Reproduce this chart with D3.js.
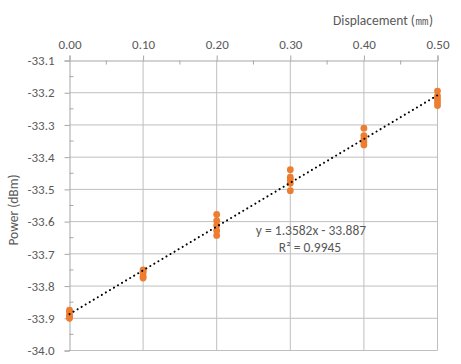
<!DOCTYPE html>
<html><head><meta charset="utf-8">
<script src="https://cdn.jsdelivr.net/npm/d3@7/dist/d3.min.js"></script>
<style>body{margin:0;background:#fff;} text{font-family:Carlito,"Open Sans",sans-serif;}</style>
</head><body><svg id="c" width="461" height="364"></svg>
<script>
const xValues = [0.0, 0.0, 0.0, 0.0, 0.0,
                 0.1, 0.1, 0.1, 0.1, 0.1,
                 0.2, 0.2, 0.2, 0.2, 0.2,
                 0.3, 0.3, 0.3, 0.3, 0.3,
                 0.4, 0.4, 0.4, 0.4, 0.4,
                 0.5, 0.5, 0.5, 0.5, 0.5];
const powerValues = [-33.875, -33.88, -33.89, -33.895, -33.90,
                     -33.75, -33.755, -33.76, -33.77, -33.775,
                     -33.578, -33.597, -33.612, -33.628, -33.643,
                     -33.439, -33.462, -33.47, -33.481, -33.504,
                     -33.31, -33.333, -33.343, -33.352, -33.362,
                     -33.195, -33.21, -33.22, -33.23, -33.24];
const xTicks = [0, 0.1, 0.2, 0.3, 0.4, 0.5];
const yTicks = [-33.1, -33.2, -33.3, -33.4, -33.5, -33.6, -33.7, -33.8, -33.9, -34.0];
const trendSlope = 1.3582, trendIntercept = -33.887;
const trendLabel = "y = 1.3582x - 33.887";
const r2Label = "R² = 0.9945";

const svg = d3.select("#c");
const L = 69.5, R = 437.5, T = 60.5, B = 350.5;
const x = d3.scaleLinear().domain([0, 0.5]).range([L, R]);
const y = d3.scaleLinear().domain([-34.0, -33.1]).range([B, T]);
const gridC = "#BFBFBF", axisC = "#A6A6A6", textC = "#595959";
const FF = 'Carlito,"Open Sans",sans-serif';

// gridlines
svg.append("g").selectAll("line").data(yTicks.slice(1)).join("line")
  .attr("x1", L).attr("x2", R).attr("y1", d => y(d)).attr("y2", d => y(d))
  .attr("stroke", gridC);
svg.append("g").selectAll("line").data(xTicks.slice(1)).join("line")
  .attr("x1", d => x(d)).attr("x2", d => x(d)).attr("y1", T).attr("y2", B)
  .attr("stroke", gridC);

// top x axis
const xAx = svg.append("g").attr("transform", `translate(0,${T})`)
  .call(d3.axisTop(x).tickValues(xTicks).tickFormat(d3.format(".2f")).tickSize(5).tickPadding(7));
const xMinor = d3.range(0.05, 0.5, 0.1);
svg.append("g").selectAll("line").data(xMinor).join("line")
  .attr("x1", d => x(d)).attr("x2", d => x(d)).attr("y1", T).attr("y2", T + 4).attr("stroke", axisC);

// left y axis
const yAx = svg.append("g").attr("transform", `translate(${L},0)`)
  .call(d3.axisLeft(y).tickValues(yTicks).tickFormat(d3.format(".1f")).tickSize(5).tickPadding(10));
const yMinor = d3.range(-33.15, -34.0, -0.1);
svg.append("g").selectAll("line").data(yMinor).join("line")
  .attr("x1", L).attr("x2", L + 4).attr("y1", d => y(d)).attr("y2", d => y(d)).attr("stroke", axisC);

[xAx, yAx].forEach(a => {
  a.select(".domain").attr("stroke", axisC);
  a.selectAll(".tick line").attr("stroke", axisC);
  a.selectAll(".tick text").attr("fill", textC).style("font-size", "13px")
    .style("font-family", FF);
});
yAx.selectAll(".tick text").text(d => d3.format(".1f")(d).replace("−", "-"));

// points
svg.append("g").selectAll("circle").data(xValues.map((d, i) => [d, powerValues[i]])).join("circle")
  .attr("cx", d => x(d[0])).attr("cy", d => y(d[1])).attr("r", 3.4).attr("fill", "#ED7D31");

// trendline
const tx = [0, 0.5];
svg.append("line")
  .attr("x1", x(tx[0])).attr("y1", y(trendSlope * tx[0] + trendIntercept))
  .attr("x2", x(tx[1])).attr("y2", y(trendSlope * tx[1] + trendIntercept))
  .attr("stroke", "#000").attr("stroke-width", 2).attr("stroke-dasharray", "0.1 4.6")
  .attr("stroke-linecap", "round");

// equation
svg.append("text").attr("x", 311).attr("y", 235).attr("text-anchor", "middle")
  .attr("fill", textC).style("font-size", "13.5px").text(trendLabel);
svg.append("text").attr("x", 310).attr("y", 252).attr("text-anchor", "middle")
  .attr("fill", textC).style("font-size", "13.5px").text(r2Label);

// axis titles
svg.append("text").attr("x", 433).attr("y", 25).attr("text-anchor", "end")
  .attr("fill", textC).style("font-size", "13.5px").text("Displacement (㎜)");
svg.append("text").attr("transform", "translate(18,210) rotate(-90)").attr("text-anchor", "middle")
  .attr("fill", textC).style("font-size", "13.5px").text("Power (dBm)");
</script></body></html>
